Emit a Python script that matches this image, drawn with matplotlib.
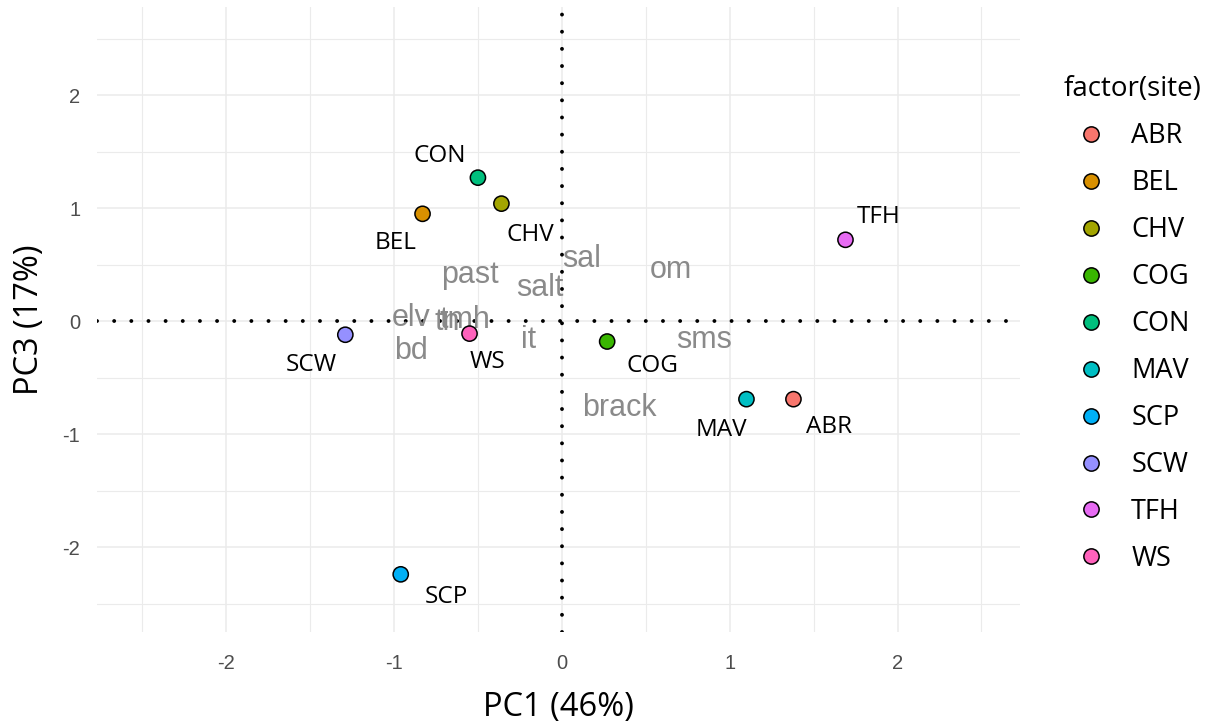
import matplotlib
matplotlib.use("Agg")
import matplotlib.pyplot as plt
from matplotlib.lines import Line2D
from matplotlib.ticker import MultipleLocator

plt.rcParams["axes.unicode_minus"] = False

# site scores (PC1, PC3)
sites = ["ABR", "BEL", "CHV", "COG", "CON", "MAV", "SCP", "SCW", "TFH", "WS"]
pc1 = [1.38, -0.83, -0.36, 0.27, -0.50, 1.10, -0.96, -1.29, 1.69, -0.55]
pc3 = [-0.69, 0.95, 1.04, -0.18, 1.27, -0.69, -2.24, -0.12, 0.72, -0.11]
site_colors = ["#F8766D", "#D89000", "#A3A500", "#39B600", "#00BF7D",
               "#00BFC4", "#00B0F6", "#9590FF", "#E76BF3", "#FF62BC"]
# repelled label offsets (data units)
label_dx = [0.21, -0.16, 0.17, 0.27, -0.23, -0.15, 0.27, -0.20, 0.20, 0.11]
label_dy = [-0.25, -0.26, -0.28, -0.22, 0.19, -0.27, -0.20, -0.27, 0.20, -0.25]

# environmental variable loadings
variables = ["past", "salt", "sal", "om", "elv", "tmh", "tn", "bd", "it", "sms", "brack"]
var_pc1 = [-0.55, -0.13, 0.12, 0.65, -0.90, -0.58, -0.68, -0.90, -0.20, 0.85, 0.34]
var_pc3 = [0.41, 0.29, 0.55, 0.45, 0.03, 0.01, -0.01, -0.26, -0.17, -0.17, -0.77]

fig = plt.figure(figsize=(12.21, 7.28), dpi=100)
ax = fig.add_axes([0.0794, 0.1319, 0.7560, 0.8585])

ax.set_xlim(-2.77, 2.73)
ax.set_ylim(-2.75, 2.78)
ax.xaxis.set_major_locator(MultipleLocator(1))
ax.yaxis.set_major_locator(MultipleLocator(1))
ax.xaxis.set_minor_locator(MultipleLocator(0.5))
ax.yaxis.set_minor_locator(MultipleLocator(0.5))
ax.grid(which="major", color="#ebebeb", lw=1.1)
ax.grid(which="minor", color="#ebebeb", lw=0.8)
ax.set_axisbelow(True)
for sp in ax.spines.values():
    sp.set_visible(False)
ax.tick_params(which="both", length=0)
ax.tick_params(axis="y", labelsize=14.5, labelcolor="#4d4d4d", pad=12)
ax.tick_params(axis="x", labelsize=14.5, labelcolor="#4d4d4d", pad=16)
for lab in ax.get_xticklabels() + ax.get_yticklabels():
    lab.set_family("Liberation Sans")

dot = (0, (0.01, 4.4))
ax.axhline(0, color="black", lw=2.8, ls=dot, dash_capstyle="round", zorder=2)
ax.axvline(0, color="black", lw=2.8, ls=dot, dash_capstyle="round", zorder=2)

for name, x, y in zip(variables, var_pc1, var_pc3):
    ax.text(x, y, name, color="#8a8a8a", fontsize=22, family="Liberation Sans",
            ha="center", va="center", zorder=3)

ax.scatter(pc1, pc3, s=120, c=site_colors, edgecolors="black", linewidths=1.1, zorder=4)

for name, x, y, dx, dy in zip(sites, pc1, pc3, label_dx, label_dy):
    ax.text(x + dx, y + dy, name, color="black", fontsize=17.5, family="Open Sans",
            ha="center", va="center", zorder=5)

ax.set_xlabel("PC1 (46%)", fontsize=23.5, family="Open Sans", labelpad=13)
ax.set_ylabel("PC3 (17%)", fontsize=23.5, family="Open Sans", labelpad=12)

handles = [Line2D([], [], ls="", marker="o", markersize=11, markerfacecolor=c,
                  markeredgecolor="black", markeredgewidth=1.1) for c in site_colors]
leg = fig.legend(handles, sites, loc="upper left", bbox_to_anchor=(0.851, 0.93),
                 frameon=False, title="factor(site)", alignment="left",
                 prop={"family": "Open Sans", "size": 19.5},
                 title_fontproperties={"family": "Open Sans", "size": 20},
                 labelspacing=0.70, handletextpad=0.45, handlelength=2.05)

fig.savefig("out.png", dpi=100)
